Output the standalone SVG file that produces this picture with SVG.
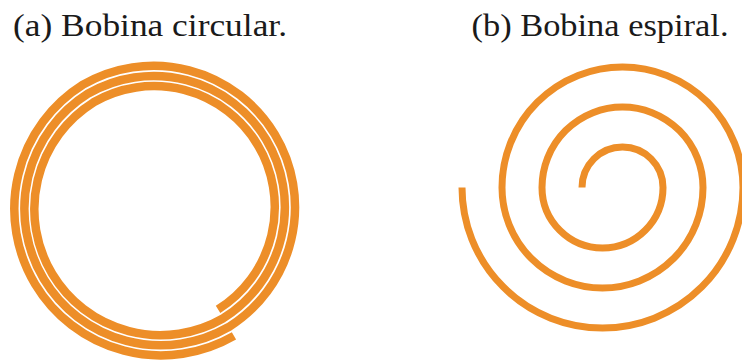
<svg xmlns="http://www.w3.org/2000/svg" width="742" height="360" viewBox="0 0 742 360">
<style>
.cap{font-family:"Liberation Serif","Times New Roman",serif;font-size:32px;fill:#1a1a1a}
.coil{fill:none;stroke:#ED8E28;stroke-linecap:butt}
</style>
<rect width="742" height="360" fill="#ffffff"/>
<g id="caption-a"><text class="cap" x="13" y="35.5" textLength="274" lengthAdjust="spacingAndGlyphs">(a) Bobina circular.</text></g>
<g id="caption-b"><text class="cap" x="471.5" y="35.5" textLength="257" lengthAdjust="spacingAndGlyphs">(b) Bobina espiral.</text></g>
<g id="coil-circular">
<path class="coil" stroke-width="8.5" d="M218.05,309.39 A120.83,120.83 0 0 0 93.59,102.29 A125.98,125.98 0 0 0 223.36,318.22 A131.13,131.13 0 0 0 88.29,93.47 A136.28,136.28 0 0 0 228.66,327.05 A141.43,141.43 0 0 0 82.99,84.64 A146.58,146.58 0 0 0 233.97,335.87"/>
</g>
<g id="coil-spiral">
<path class="coil" stroke-width="7" d="M582,187.5 A40.5,40.5 0 0 1 663,187.5 A60.5,60.5 0 0 1 542,187.5 A80.5,80.5 0 0 1 703,187.5 A100.5,100.5 0 0 1 502,187.5 A120.5,120.5 0 0 1 743,187.5 A140.5,140.5 0 0 1 462,187.5"/>
</g>
</svg>
